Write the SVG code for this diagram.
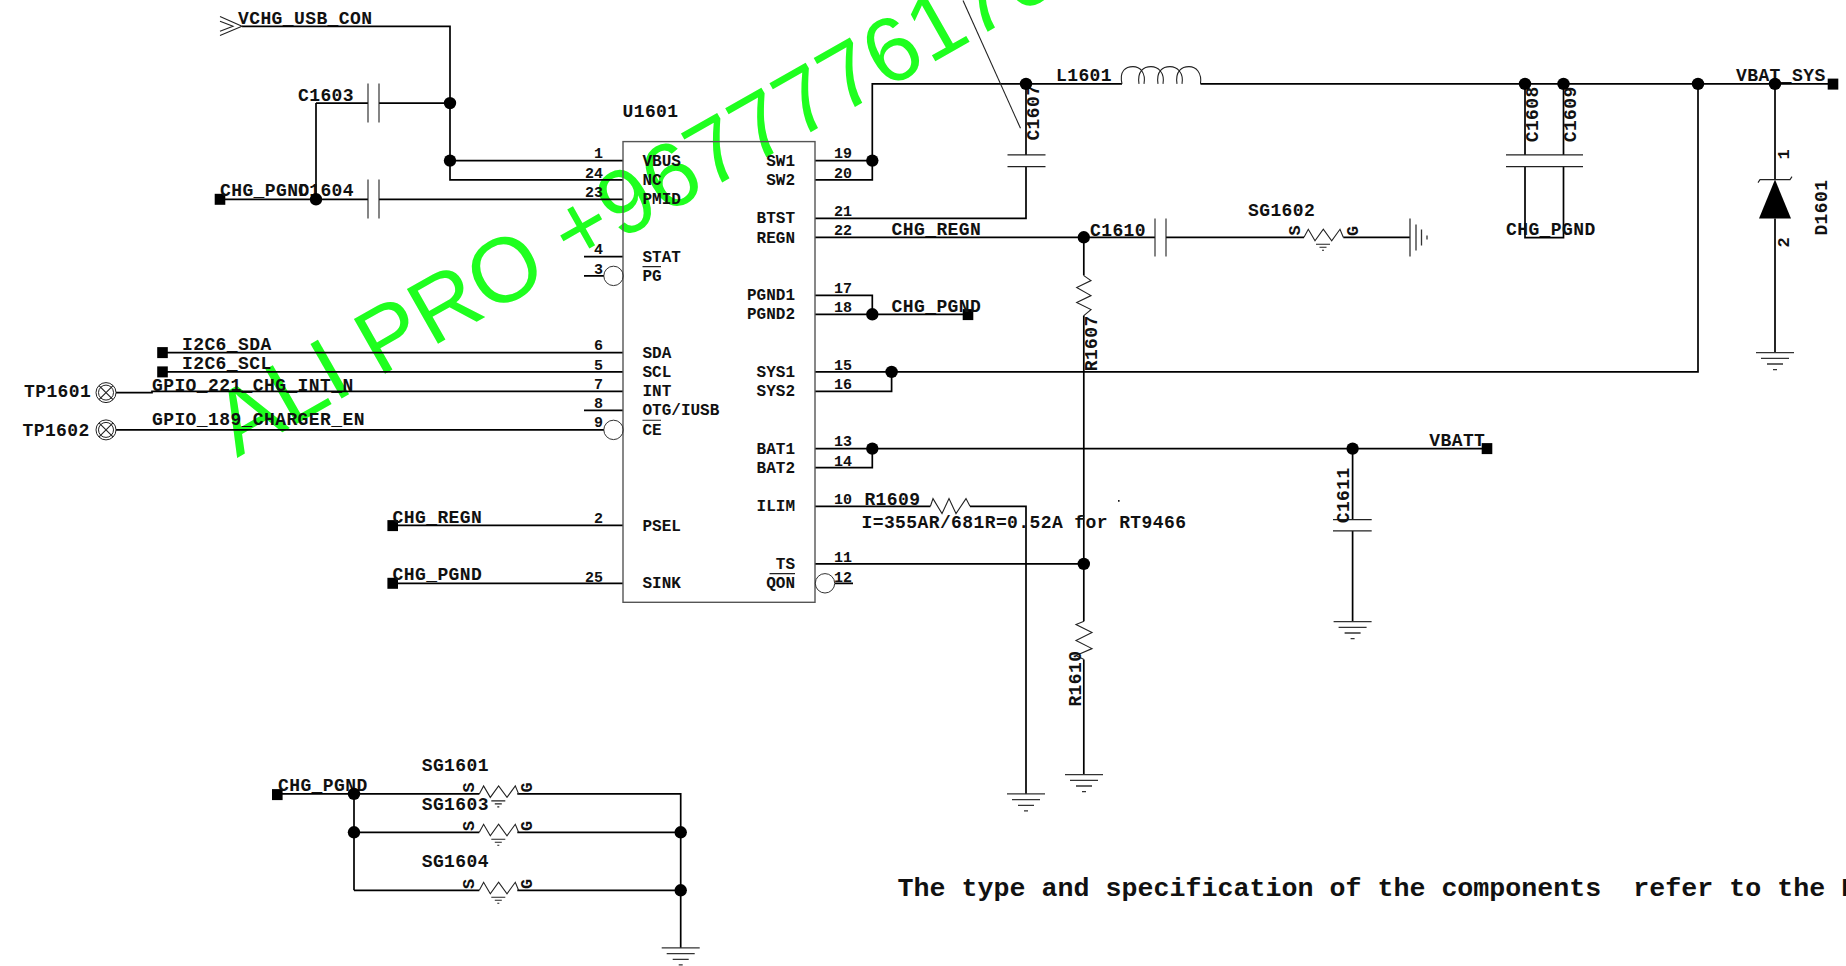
<svg xmlns="http://www.w3.org/2000/svg" width="1846" height="966" viewBox="0 0 1846 966">
<style>
text{font-family:"Liberation Mono",monospace;font-weight:bold;fill:#111;white-space:pre}
.l{font-size:18px;letter-spacing:.4px}
.p{font-size:16px}
.n{font-size:15px}
.e{text-anchor:end}
.s{font-size:17px}
.note{font-size:26.67px}
.wm{font-family:"Liberation Sans",Arial,sans-serif;font-weight:normal;font-size:91.5px;fill:#1fff1f}
.w{fill:none;stroke:#000;stroke-width:1.7}
.t{fill:none;stroke:#222;stroke-width:1.1}
.g{fill:none;stroke:#333;stroke-width:1.3}
</style>
<defs>
<circle id="dot" r="6.2" fill="#000"/>
<rect id="sq" x="-5.3" y="-5.5" width="10.6" height="11" fill="#000"/>
<path id="gnd" class="g" d="M-19 0H19M-14 5.7H14M-8 11.4H8M-2 17H2"/>
<path id="sgz" class="t" d="M0 0L4.3-8L11 3.5L19.3-8L27.7 3.5L36-8L39.3 0M12 7H26M15.5 10H22.5M18 13H20"/>
<path id="xtp" class="t" d="M-7-7L7 7M-7 7L7-7"/>
</defs>
<text class="wm" transform="translate(237 458) rotate(-29.6)">ALI PRO +9677776170</text>
<g transform="translate(0 .6)">
<g id="connectors">
<path class="w" d="M242 25.7H450V179.3H623M450 102.5H379M450 160H623M316 102.5H368M316 102.5V198.7M220 198.7H368M379 198.7H623"/>
<path class="w" d="M162 352H623M162 371.3H623M116 392H152V390.7H623M584 409.7H623M116 429.3H604M392 524.7H623M392 582.7H623M584 256H623M584 275.3H604"/>
<path class="w" d="M815 160H872.3M815 179.3H872.3V83.3H1122M815 217.7H1026V166M1026 83.3V154.3"/>
<path class="w" d="M815 236.7H1155M1166 236.7H1304M1343.3 236.7H1410"/>
<path class="w" d="M815 294.7H872.3V313.7M815 313.7H968"/>
<path class="w" d="M815 371.3H1698V83.3M815 390.7H891.6V371.3"/>
<path class="w" d="M815 448H1487M815 467H872.3V448M815 505.7H930.4M970 505.7H1026V793.3M815 563.3H1083.8M835 582.7H853"/>
<path class="w" d="M1083.8 236.7V275M1083.8 315V620.7M1083.8 659V774"/>
<path class="w" d="M1200.5 83.3H1832M1525 83.3V154.3M1563.5 83.3V154.3M1525 166V237H1563.5V166M1775 83.3V179M1775 218V352"/>
<path class="w" d="M1352.6 448V519M1352.6 530.3V621"/>
<path class="w" d="M277 793.3H479.3M517.3 793.3H680.7V947.3M354 793.3V889.7M354 831.7H479.3M517.3 831.7H680.7M354 889.7H479.3M517.3 889.7H680.7"/>
<path class="t" d="M963 0L1020.5 127.7"/>
</g>
<g id="VCHG_USB_CON"><path class="t" d="M220 16L242 25.7L220 35M220 20.7L233 25.7L220 30.7"/><text class="l" x="238" y="23.5">VCHG_USB_CON</text></g>
<g id="C1603"><path class="t" d="M368 83V122M379 83V122"/><text class="l" x="298" y="100">C1603</text></g>
<g id="C1604"><path class="t" d="M368 179V218M379 179V218"/><use href="#sq" x="220" y="198.7"/><text class="l" x="220" y="195">CHG_PGND</text><text class="l" x="298" y="195">C1604</text></g>
<g id="U1601">
<rect x="623" y="141" width="192" height="460.7" fill="none" stroke="#555" stroke-width="1.4"/>
<text class="l" x="622.5" y="116">U1601</text>
<circle cx="613.5" cy="275.3" r="9.7" fill="none" stroke="#333" stroke-width="1"/>
<circle cx="613.5" cy="429.3" r="9.7" fill="none" stroke="#333" stroke-width="1"/>
<circle cx="825" cy="582.7" r="9.7" fill="none" stroke="#333" stroke-width="1"/>
<path class="t" d="M642.5 266H661M642.5 419.7H661M769.5 573H795"/>
<text class="p" x="642.5" y="165">VBUS</text><text class="p" x="642.5" y="184">NC</text><text class="p" x="642.5" y="203">PMID</text><text class="p" x="642.5" y="261">STAT</text><text class="p" x="642.5" y="280">PG</text><text class="p" x="642.5" y="357">SDA</text><text class="p" x="642.5" y="376.5">SCL</text><text class="p" x="642.5" y="395">INT</text><text class="p" x="642.5" y="414">OTG/IUSB</text><text class="p" x="642.5" y="434">CE</text><text class="p" x="642.5" y="530">PSEL</text><text class="p" x="642.5" y="587">SINK</text>
<text class="p e" x="795" y="165">SW1</text><text class="p e" x="795" y="184">SW2</text><text class="p e" x="795" y="222">BTST</text><text class="p e" x="795" y="242">REGN</text><text class="p e" x="795" y="299">PGND1</text><text class="p e" x="795" y="318">PGND2</text><text class="p e" x="795" y="376">SYS1</text><text class="p e" x="795" y="395">SYS2</text><text class="p e" x="795" y="453">BAT1</text><text class="p e" x="795" y="472">BAT2</text><text class="p e" x="795" y="510">ILIM</text><text class="p e" x="795" y="568">TS</text><text class="p e" x="795" y="587">QON</text>
<text class="n e" x="603" y="157">1</text><text class="n e" x="603" y="177">24</text><text class="n e" x="603" y="196">23</text><text class="n e" x="603" y="253">4</text><text class="n e" x="603" y="273">3</text><text class="n e" x="603" y="349">6</text><text class="n e" x="603" y="369">5</text><text class="n e" x="603" y="388">7</text><text class="n e" x="603" y="407">8</text><text class="n e" x="603" y="426">9</text><text class="n e" x="603" y="522">2</text><text class="n e" x="603" y="581">25</text>
<text class="n" x="834" y="157">19</text><text class="n" x="834" y="177">20</text><text class="n" x="834" y="215">21</text><text class="n" x="834" y="234">22</text><text class="n" x="834" y="292">17</text><text class="n" x="834" y="311">18</text><text class="n" x="834" y="369">15</text><text class="n" x="834" y="388">16</text><text class="n" x="834" y="445">13</text><text class="n" x="834" y="465">14</text><text class="n" x="834" y="503">10</text><text class="n" x="834" y="561">11</text><text class="n" x="834" y="581">12</text>
</g>
<g id="I2C6_SDA"><use href="#sq" x="162.5" y="352"/><text class="l" x="182" y="349">I2C6_SDA</text></g>
<g id="I2C6_SCL"><use href="#sq" x="162.5" y="371.3"/><text class="l" x="182" y="368">I2C6_SCL</text></g>
<g id="TP1601"><circle cx="106" cy="392" r="10" fill="none" stroke="#222"/><circle cx="106" cy="392" r="7.5" fill="none" stroke="#222"/><use href="#xtp" x="106" y="392"/><text class="l" x="24" y="396.7">TP1601</text><text class="l" x="152" y="390">GPIO_221_CHG_INT_N</text></g>
<g id="TP1602"><circle cx="106" cy="429.3" r="10" fill="none" stroke="#222"/><circle cx="106" cy="429.3" r="7.5" fill="none" stroke="#222"/><use href="#xtp" x="106" y="429.3"/><text class="l" x="22.5" y="435">TP1602</text><text class="l" x="152" y="424">GPIO_189_CHARGER_EN</text></g>
<g id="CHG_REGN_IN"><use href="#sq" x="392.7" y="525"/><text class="l" x="392.6" y="522">CHG_REGN</text></g>
<g id="CHG_PGND_IN"><use href="#sq" x="392.7" y="582.7"/><text class="l" x="392.6" y="579">CHG_PGND</text></g>
<g id="L1601"><path class="t" d="M1122 83.3C1119 70 1126 66 1133 66C1140 66 1146 72 1144 83.3M1139 83.3C1137 70 1144 66 1151 66C1158 66 1165 72 1163 83.3M1158 83.3C1156 70 1163 66 1170 66C1177 66 1184 72 1182 83.3M1177 83.3C1175 70 1182 66 1189 66C1196 66 1202 72 1200.5 83.3"/><text class="l" x="1056" y="80">L1601</text></g>
<g id="C1607"><path class="t" d="M1007.5 154.3H1045.5M1007.5 166H1045.5"/><text class="l" transform="translate(1039 140) rotate(-90)">C1607</text></g>
<g id="CHG_REGN_NET"><text class="l" x="891.6" y="234">CHG_REGN</text></g>
<g id="C1610"><path class="t" d="M1155 218V256M1166 218V256"/><text class="l" x="1090" y="235">C1610</text></g>
<g id="SG1602"><use href="#sgz" x="1304" y="236.7"/><text class="l" x="1248" y="215">SG1602</text><text class="s" transform="translate(1299.5 235) rotate(-90)">S</text><text class="s" transform="translate(1358 235.5) rotate(-90)">G</text><path class="g" d="M1410 218V256M1416 224V250M1421.5 229V245M1427 235V239"/></g>
<g id="PGND_NET"><use href="#sq" x="968" y="314"/><text class="l" x="891.6" y="311">CHG_PGND</text></g>
<g id="R1607"><path class="t" d="M1083.8 275L1091 280L1076.7 287L1091 295L1076.7 302L1091 309L1083.8 315"/><text class="l" transform="translate(1096.5 370.7) rotate(-90)">R1607</text></g>
<g id="R1609"><path class="t" d="M930.4 505.7L933 498L942 513L949 498L956 513L966 498L970 505.7"/><text class="l" x="864.4" y="504">R1609</text><text class="l" x="861.5" y="527.7">I=355AR/681R=0.52A for RT9466</text><rect x="1118" y="499.5" width="1.6" height="1.6" fill="#000"/></g>
<g id="R1610"><path class="t" d="M1084 620.7L1076 624L1092 632L1076 640L1092 648L1076 655L1084 659"/><text class="l" transform="translate(1081 706) rotate(-90)">R1610</text></g>
<g id="GND_R1609"><use href="#gnd" x="1026" y="793.3"/></g>
<g id="GND_R1610"><use href="#gnd" x="1084" y="774"/></g>
<g id="C1608"><path class="t" d="M1506 154.3H1583M1506 166H1583"/><text class="l" transform="translate(1537.6 141.7) rotate(-90)">C1608</text><text class="l" x="1506" y="234">CHG_PGND</text></g>
<g id="C1609"><text class="l" transform="translate(1576 141.7) rotate(-90)">C1609</text></g>
<g id="VBAT_SYS"><use href="#sq" x="1833" y="83.5"/><text class="l" x="1736" y="80">VBAT_SYS</text></g>
<g id="D1601"><path fill="#000" d="M1775 179L1759 218H1791Z"/><path class="t" d="M1758 182L1760 179H1790L1792 176"/><use href="#gnd" x="1775" y="352"/><text class="s" transform="translate(1788.5 159) rotate(-90)">1</text><text class="s" transform="translate(1788.5 247) rotate(-90)">2</text><text class="l" transform="translate(1827 235) rotate(-90)">D1601</text></g>
<g id="C1611"><path class="t" d="M1333 519H1371.7M1333 530.3H1371.7"/><use href="#gnd" x="1352.6" y="621"/><text class="l" transform="translate(1349 522.7) rotate(-90)">C1611</text></g>
<g id="VBATT"><use href="#sq" x="1487" y="448"/><text class="l" x="1429.3" y="445">VBATT</text></g>
<g id="CHG_PGND_B"><use href="#sq" x="277.3" y="794"/><text class="l" x="278" y="790.7">CHG_PGND</text></g>
<g id="SG1601"><use href="#sgz" x="479.3" y="793.3"/><text class="l" x="421.7" y="770.7">SG1601</text><text class="s" transform="translate(473.5 792) rotate(-90)">S</text><text class="s" transform="translate(532 792) rotate(-90)">G</text></g>
<g id="SG1603"><use href="#sgz" x="479.3" y="831.7"/><text class="l" x="421.7" y="809.3">SG1603</text><text class="s" transform="translate(473.5 830.5) rotate(-90)">S</text><text class="s" transform="translate(532 830.5) rotate(-90)">G</text></g>
<g id="SG1604"><use href="#sgz" x="479.3" y="889.7"/><text class="l" x="421.7" y="866.7">SG1604</text><text class="s" transform="translate(473.5 888.5) rotate(-90)">S</text><text class="s" transform="translate(532 888.5) rotate(-90)">G</text></g>
<g id="GND_SG"><use href="#gnd" x="680.7" y="947.3"/></g>
<g id="junctions">
<use href="#dot" x="450" y="102.5"/><use href="#dot" x="450" y="160"/><use href="#dot" x="316" y="198.7"/><use href="#dot" x="872.3" y="160"/><use href="#dot" x="1026" y="83.3"/><use href="#dot" x="1083.8" y="236.7"/><use href="#dot" x="872.3" y="313.7"/><use href="#dot" x="891.6" y="371.3"/><use href="#dot" x="872.3" y="448"/><use href="#dot" x="1083.8" y="563.3"/><use href="#dot" x="1352.6" y="448"/><use href="#dot" x="1525" y="83.3"/><use href="#dot" x="1563.5" y="83.3"/><use href="#dot" x="1698" y="83.3"/><use href="#dot" x="1775" y="83.3"/><use href="#dot" x="354" y="793.3"/><use href="#dot" x="354" y="831.7"/><use href="#dot" x="680.7" y="831.7"/><use href="#dot" x="680.7" y="889.7"/>
</g>
<text class="note" x="897.5" y="895">The type and specification of the components  refer to the B</text>
</g>
</svg>
